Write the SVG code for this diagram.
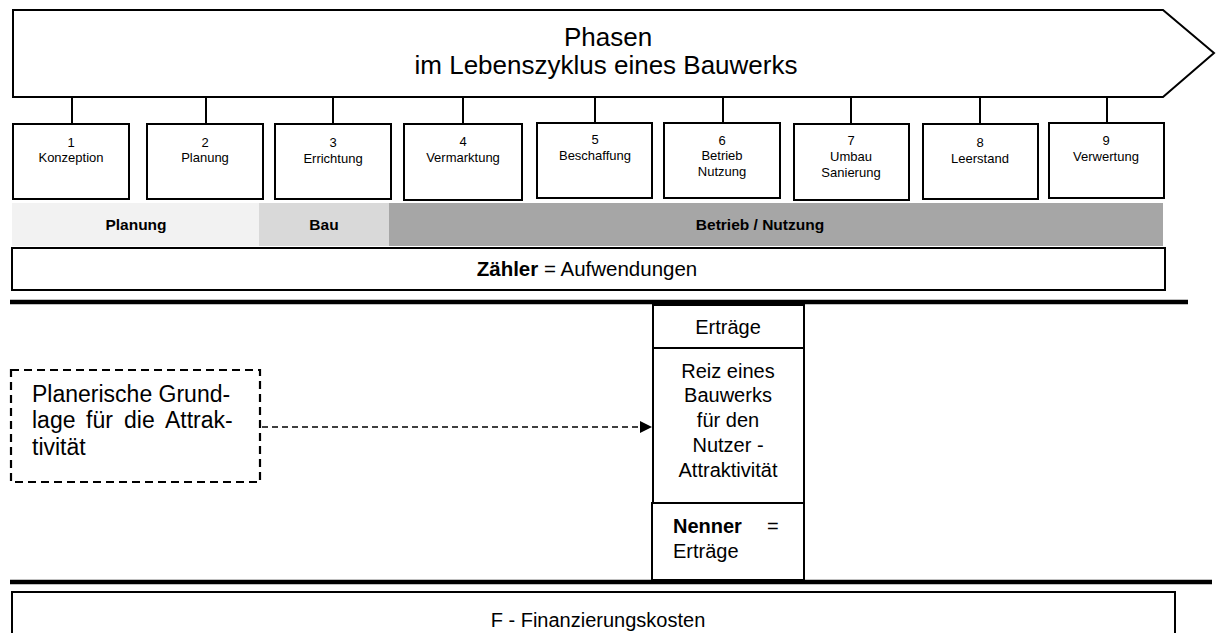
<svg xmlns="http://www.w3.org/2000/svg" width="1216" height="633" viewBox="0 0 1216 633">
  <style>
    text { font-family: "Liberation Sans", Arial, sans-serif; fill: #000; }
    .frame { fill: #fff; stroke: #000; stroke-width: 2; }
    .tick { stroke: #000; stroke-width: 2; fill: none; }
    .phase { font-size: 13px; text-anchor: middle; }
    .band { font-size: 15.5px; font-weight: bold; text-anchor: middle; }
    .big { font-size: 20px; text-anchor: middle; }
    .basis { font-size: 23px; }
    .rule { stroke: #000; stroke-width: 4.5; }
  </style>
  <defs>
    <marker id="arrowhead" markerWidth="12" markerHeight="12" refX="12" refY="6" orient="auto" markerUnits="userSpaceOnUse">
      <path d="M0,0 L12,6 L0,12 Z" fill="#000"/>
    </marker>
  </defs>

  <!-- life-cycle arrow -->
  <g id="lifecycle">
    <path class="frame" d="M13,10 H1163 L1214,53 L1163,97 H13 Z"/>
    <text x="608" y="46" style="font-size:26px;text-anchor:middle">Phasen</text>
    <text x="606" y="74" style="font-size:26px;text-anchor:middle">im Lebenszyklus eines Bauwerks</text>
  </g>

  <!-- connectors -->
  <g id="connectors">
    <path class="tick" d="M72,97 V124 M206,97 V124 M333,97 V124 M463,97 V124 M595,97 V124 M723,97 V124 M851,97 V124 M980,97 V124 M1107,97 V124"/>
    <line x1="262" y1="427" x2="652" y2="427" stroke="#000" stroke-width="1.6" stroke-dasharray="6 4" marker-end="url(#arrowhead)"/>
  </g>

  <!-- phase boxes -->
  <g id="phase1"><rect class="frame" x="13" y="124" width="116" height="75"/><text class="phase" x="71" y="147">1</text><text class="phase" x="71" y="162">Konzeption</text></g>
  <g id="phase2"><rect class="frame" x="147" y="124" width="116" height="75"/><text class="phase" x="205" y="147">2</text><text class="phase" x="205" y="162">Planung</text></g>
  <g id="phase3"><rect class="frame" x="275" y="124" width="116" height="75"/><text class="phase" x="333" y="147">3</text><text class="phase" x="333" y="163">Errichtung</text></g>
  <g id="phase4"><rect class="frame" x="404" y="124" width="118" height="76"/><text class="phase" x="463" y="146">4</text><text class="phase" x="463" y="162">Vermarktung</text></g>
  <g id="phase5"><rect class="frame" x="537" y="123" width="115" height="75"/><text class="phase" x="595" y="144">5</text><text class="phase" x="595" y="160">Beschaffung</text></g>
  <g id="phase6"><rect class="frame" x="664" y="123" width="116" height="75"/><text class="phase" x="722" y="145">6</text><text class="phase" x="722" y="160">Betrieb</text><text class="phase" x="722" y="176">Nutzung</text></g>
  <g id="phase7"><rect class="frame" x="794" y="124" width="115" height="76"/><text class="phase" x="851" y="145">7</text><text class="phase" x="851" y="161">Umbau</text><text class="phase" x="851" y="177">Sanierung</text></g>
  <g id="phase8"><rect class="frame" x="923" y="124" width="115" height="75"/><text class="phase" x="980" y="147">8</text><text class="phase" x="980" y="163">Leerstand</text></g>
  <g id="phase9"><rect class="frame" x="1049" y="123" width="115" height="75"/><text class="phase" x="1106" y="145">9</text><text class="phase" x="1106" y="161">Verwertung</text></g>

  <!-- phase groups band -->
  <g id="band">
    <rect x="12" y="203" width="247" height="43" fill="#f2f2f2"/>
    <rect x="259" y="203" width="130" height="43" fill="#d9d9d9"/>
    <rect x="389" y="203" width="774" height="43" fill="#a6a6a6"/>
    <text class="band" x="136" y="230">Planung</text>
    <text class="band" x="324" y="230">Bau</text>
    <text class="band" x="760" y="230">Betrieb / Nutzung</text>
  </g>

  <!-- numerator -->
  <g id="numerator">
    <rect class="frame" x="12" y="248" width="1153" height="42"/>
    <text x="587" y="276" style="font-size:20.5px;text-anchor:middle"><tspan font-weight="bold">Zähler</tspan> = Aufwendungen</text>
  </g>

  <line class="rule" x1="10" y1="302" x2="1188" y2="302"/>

  <!-- planning basis -->
  <g id="basis">
    <rect x="11" y="370" width="249" height="112" fill="#fff" stroke="#000" stroke-width="2.2" stroke-dasharray="8 5"/>
    <text class="basis" x="32" y="402">Planerische Grund-</text>
    <text class="basis" y="428"><tspan x="32">lage</tspan><tspan x="86">für</tspan><tspan x="124">die</tspan><tspan x="165">Attrak-</tspan></text>
    <text class="basis" x="32" y="455">tivität</text>
  </g>

  <!-- revenue column -->
  <g id="revenue">
    <rect class="frame" x="653" y="305" width="151" height="43"/>
    <text class="big" x="728" y="334">Erträge</text>
    <rect class="frame" x="653" y="348" width="151" height="155"/>
    <text class="big" x="728" y="378">Reiz eines</text>
    <text class="big" x="728" y="402">Bauwerks</text>
    <text class="big" x="728" y="427">für den</text>
    <text class="big" x="728" y="452">Nutzer -</text>
    <text class="big" x="728" y="477">Attraktivität</text>
  </g>
  <g id="denominator">
    <rect class="frame" x="652" y="503" width="152" height="77"/>
    <text x="673" y="533" style="font-size:20px"><tspan font-weight="bold">Nenner</tspan></text>
    <text x="767" y="533" style="font-size:20px">=</text>
    <text x="673" y="558" style="font-size:20px">Erträge</text>
  </g>

  <line class="rule" x1="10" y1="582" x2="1212" y2="582"/>

  <!-- financing -->
  <g id="financing">
    <rect class="frame" x="12" y="592" width="1163" height="50"/>
    <text x="598" y="627" style="font-size:20px;text-anchor:middle">F - Finanzierungskosten</text>
  </g>
</svg>
